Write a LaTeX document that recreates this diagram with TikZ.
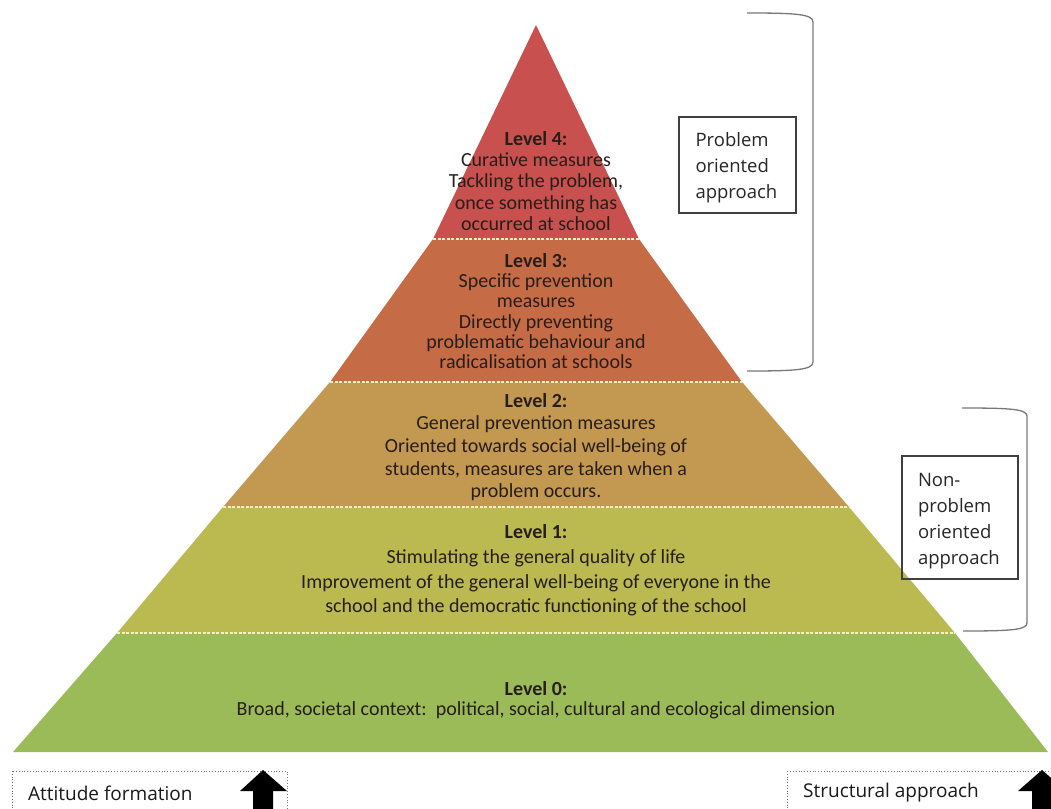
\documentclass[tikz,border=0pt]{standalone}
\usepackage{fontspec}
\setmainfont{Carlito}
\newfontfamily\boxfont{Open Sans}
\usetikzlibrary{positioning}

\definecolor{lvlfour}{RGB}{200,80,78}
\definecolor{lvlthree}{RGB}{197,108,70}
\definecolor{lvltwo}{RGB}{195,152,80}
\definecolor{lvlone}{RGB}{186,186,80}
\definecolor{lvlzero}{RGB}{155,187,89}
\definecolor{seam}{RGB}{248,240,190}
\definecolor{txtdark}{RGB}{40,30,25}
\definecolor{brackgray}{RGB}{120,120,120}

\tikzset{
  layer/.style={fill=#1, draw=none},
  lvltext/.style={align=center, text=txtdark, inner sep=0pt},
  apprbox/.style={draw=black!75, line width=1.2pt, align=left, inner sep=0pt,
    font=\boxfont\fontsize{18.5}{26}\selectfont, text=black!85},
  sidebox/.style={draw=black!55, dotted, line width=0.8pt},
  sidetext/.style={font=\boxfont\fontsize{19}{24}\selectfont, text=black!90, anchor=west, inner sep=0pt},
  brack/.style={draw=brackgray, line width=1.3pt},
  seamline/.style={draw=seam, dashed, dash pattern=on 3pt off 1.5pt, line width=1.4pt}
}

\begin{document}
\begin{tikzpicture}[x=1pt,y=-1pt]
  \useasboundingbox (0,0) rectangle (1051,808);

  % corners of the layers
  \coordinate (top) at (536,25);
  \coordinate (l4) at (433,239);  \coordinate (r4) at (639,239);
  \coordinate (l3) at (330,382);  \coordinate (r3) at (742,382);
  \coordinate (l2) at (223,507);  \coordinate (r2) at (849,507);
  \coordinate (l1) at (117,633);  \coordinate (r1) at (955,633);
  \coordinate (l0) at (13,752);   \coordinate (r0) at (1048,752);

  \fill [layer=lvlfour]  (top) -- (r4) -- (l4) -- cycle;
  \fill [layer=lvlthree] (l4) -- (r4) -- (r3) -- (l3) -- cycle;
  \fill [layer=lvltwo]   (l3) -- (r3) -- (r2) -- (l2) -- cycle;
  \fill [layer=lvlone]   (l2) -- (r2) -- (r1) -- (l1) -- cycle;
  \fill [layer=lvlzero]  (l1) -- (r1) -- (r0) -- (l0) -- cycle;

  \draw [seamline] (l4) -- (r4);
  \draw [seamline] (l3) -- (r3);
  \draw [seamline] (l2) -- (r2);
  \draw [seamline] (l1) -- (r1);

  \node [lvltext, font=\fontsize{20}{21.2}\selectfont] (lvl4) at (536,181)
    {\textbf{Level 4:}\\Curative measures\\Tackling the problem,\\once something has\\occurred at school};
  \node [lvltext, font=\fontsize{20}{20.3}\selectfont] (lvl3) at (536,311)
    {\textbf{Level 3:}\\Specific prevention\\measures\\Directly preventing\\problematic behaviour and\\radicalisation at schools};
  \node [lvltext, font=\fontsize{20}{22.7}\selectfont] (lvl2) at (536,447)
    {\textbf{Level 2:}\\General prevention measures\\Oriented towards social well-being of\\students, measures are taken when a\\problem occurs.};
  \node [lvltext, font=\fontsize{20}{24.7}\selectfont] (lvl1) at (536,570.5)
    {\textbf{Level 1:}\\Stimulating the general quality of life\\Improvement of the general well-being of everyone in the\\school and the democratic functioning of the school};
  \node [lvltext, font=\fontsize{20}{20}\selectfont] (lvl0) at (536,700.5)
    {\textbf{Level 0:}\\Broad, societal context:\ \ political, social, cultural and ecological dimension};

  % brackets
  \draw [brack] (747,13) .. controls (795,13) and (813,14) .. (813,22)
    -- (813,362) .. controls (813,370) and (795,371) .. (747,371);
  \draw [brack] (962,408) .. controls (1010,408) and (1027,409) .. (1027,416)
    -- (1027,623) .. controls (1027,630) and (1010,631) .. (963,631);

  \node [apprbox, minimum width=117pt, minimum height=96pt, text width=84pt] (probbox) at (737.5,165)
    {\rule{0pt}{20pt}Problem\\oriented\\approach};
  \node [apprbox, minimum width=116pt, minimum height=123pt, text width=84pt] (nonprobbox) at (960,517.5)
    {\rule{0pt}{21pt}Non-\\problem\\oriented\\approach};

  % bottom boxes and arrows
  \draw [sidebox] (12,771) rectangle (287,840);
  \draw [sidebox] (787,771) rectangle (1070,840);
  \node [sidetext] (attitude) at (28,793) {Attitude formation};
  \node [sidetext] (structural) at (803,793) {Structural approach};
  \fill [black] (263,770) -- (287,791) -- (273,791) -- (273,820)
    -- (253,820) -- (253,791) -- (240,791) -- cycle;
  \fill [black] (1042,770) -- (1066,791) -- (1052,791) -- (1052,820)
    -- (1032,820) -- (1032,791) -- (1018,791) -- cycle;
\end{tikzpicture}
\end{document}
